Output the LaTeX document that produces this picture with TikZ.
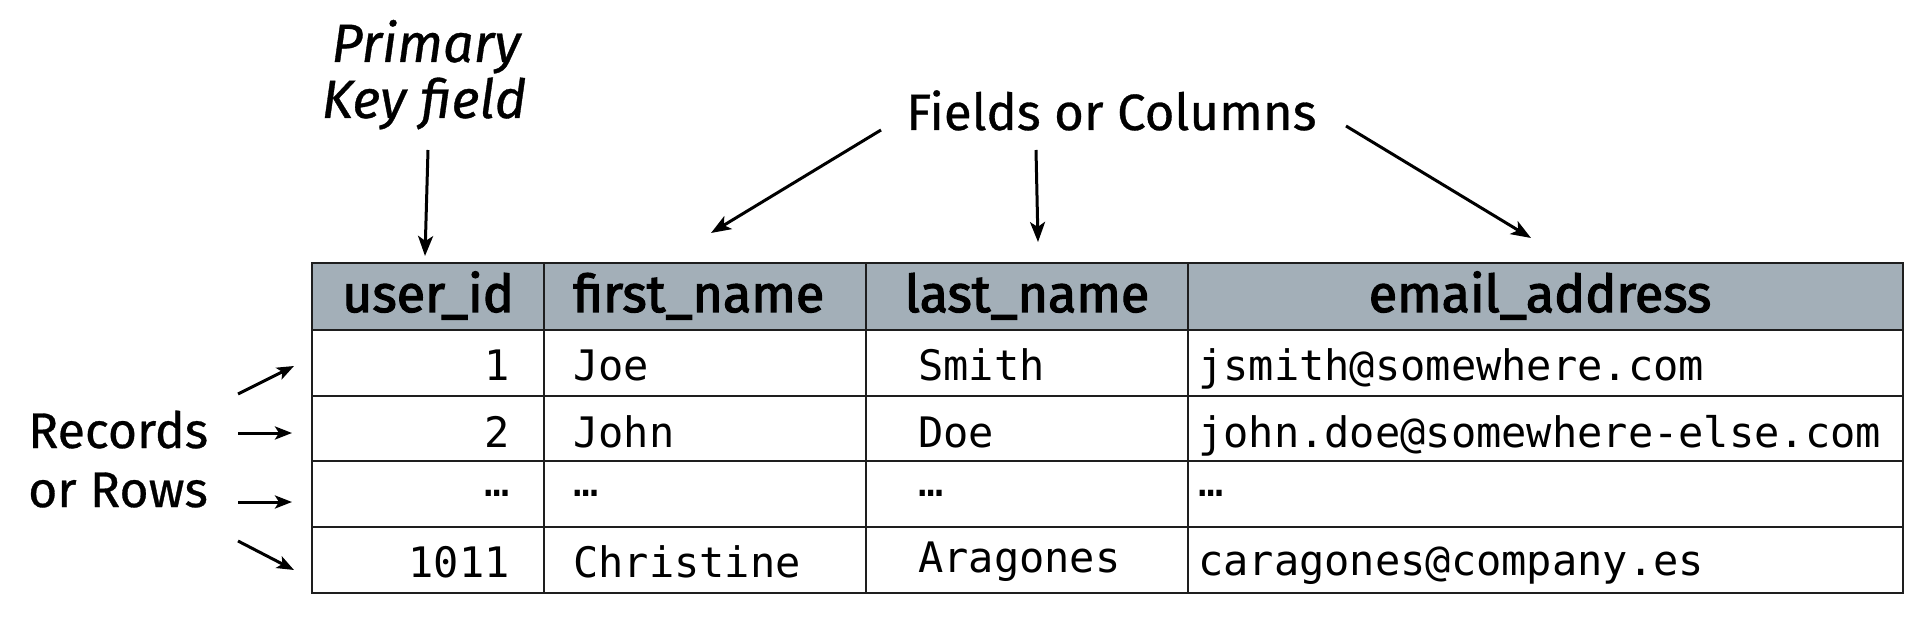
\documentclass[tikz,border=0pt]{standalone}
\usepackage{fontspec}
\setmainfont{Fira Sans}[FakeBold=0.6]
\newfontfamily\hdrfont{Fira Sans}[FakeBold=2.4]
\newfontfamily\monofont{DejaVu Sans Mono}
\usetikzlibrary{arrows.meta}
\definecolor{hdr}{HTML}{A3AFB8}
\definecolor{ln}{HTML}{1E1E1E}
\tikzset{
  cell/.style={draw=ln, line width=2.4pt, inner sep=0pt, outer sep=0pt, rectangle},
  hdrtext/.style={inner sep=0pt, font=\fontsize{52}{60}\selectfont\hdrfont},
  celltext/.style={inner sep=0pt, font=\fontsize{42}{50}\selectfont\monofont},
  note/.style={inner sep=0pt, font=\fontsize{51}{60}\selectfont},
  rnote/.style={inner sep=0pt, font=\fontsize{50}{60}\selectfont},
  inote/.style={inner sep=0pt, font=\fontsize{54}{60}\selectfont\itshape},
  bigarrow/.style={line width=3pt, -{Stealth[length=20pt, width=15pt, inset=5pt]}},
  smallarrow/.style={line width=3pt, -{Stealth[length=17pt, width=13pt, inset=4pt]}},
}
\begin{document}
\begin{tikzpicture}[x=1pt, y=-1pt]
\useasboundingbox (0,0) rectangle (1930,620);
% header cells
\foreach \c/\x/\w in {1/428/232, 2/705/322, 3/1027/322, 4/1545.5/715} {
  \node[cell, fill=hdr, minimum width=\w, minimum height=67] (c0\c) at (\x,296.5) {};
}
% body cells
\foreach \c/\x/\w in {1/428/232, 2/705/322, 3/1027/322, 4/1545.5/715} {
  \foreach \r/\y/\h in {1/363/66, 2/428.5/65, 3/494/66, 4/560/66} {
    \node[cell, minimum width=\w, minimum height=\h] (c\r\c) at (\x,\y) {};
  }
}
% header texts
\node[hdrtext, anchor=base] (t01) at (428,312) {user\_id};
\node[hdrtext, anchor=base west] (t02) at (573,312) {first\_name};
\node[hdrtext, anchor=base] (t03) at (1027,312) {last\_name};
\node[hdrtext, anchor=base] (t04) at (1540,312) {email\_address};
% row 1
\node[celltext, anchor=base east] (t11) at (510,380) {1};
\node[celltext, anchor=base west] (t12) at (573,380) {Joe};
\node[celltext, anchor=base west] (t13) at (918,380) {Smith};
\node[celltext, anchor=base west] (t14) at (1198,380) {jsmith@somewhere.com};
% row 2
\node[celltext, anchor=base east] (t21) at (510,447) {2};
\node[celltext, anchor=base west] (t22) at (573,447) {John};
\node[celltext, anchor=base west] (t23) at (918,447) {Doe};
\node[celltext, anchor=base west] (t24) at (1198,447) {john.doe@somewhere-else.com};
% row 3
\node[celltext, anchor=base east] (t31) at (510,496) {…};
\node[celltext, anchor=base west] (t32) at (573,496) {…};
\node[celltext, anchor=base west] (t33) at (918,496) {…};
\node[celltext, anchor=base west] (t34) at (1198,496) {…};
% row 4
\node[celltext, anchor=base east] (t41) at (510,577) {1011};
\node[celltext, anchor=base west] (t42) at (573,577) {Christine};
\node[celltext, anchor=base west] (t43) at (918,572) {Aragones};
\node[celltext, anchor=base west] (t44) at (1198,575) {caragones@company.es};
% annotations
\node[inote, anchor=base] (pk1) at (426,62) {Primary};
\node[inote, anchor=base] (pk2) at (424,118) {Key field};
\node[note, anchor=base west] (fc) at (906,130) {Fields or Columns};
\node[rnote, anchor=base west] (rr1) at (28,448) {Records};
\node[rnote, anchor=base west] (rr2) at (28,507) {or Rows};
% arrow end points
\coordinate (pks) at (428,150);  \coordinate (pke) at (425,256);
\coordinate (f1s) at (881,130);  \coordinate (f1e) at (711,233);
\coordinate (f2s) at (1036,150); \coordinate (f2e) at (1038,242);
\coordinate (f3s) at (1346,126); \coordinate (f3e) at (1531,238);
\coordinate (r1s) at (238,394);  \coordinate (r1e) at (294,366);
\coordinate (r2s) at (238,433);  \coordinate (r2e) at (292,433);
\coordinate (r3s) at (238,502);  \coordinate (r3e) at (292,502);
\coordinate (r4s) at (238,541);  \coordinate (r4e) at (294,570);
\draw[bigarrow] (pks) -- (pke);
\draw[bigarrow] (f1s) -- (f1e);
\draw[bigarrow] (f2s) -- (f2e);
\draw[bigarrow] (f3s) -- (f3e);
\draw[smallarrow] (r1s) -- (r1e);
\draw[smallarrow] (r2s) -- (r2e);
\draw[smallarrow] (r3s) -- (r3e);
\draw[smallarrow] (r4s) -- (r4e);
\end{tikzpicture}
\end{document}
